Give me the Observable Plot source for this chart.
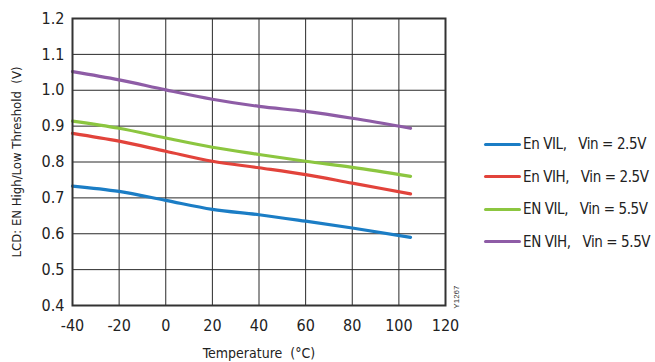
<!DOCTYPE html>
<html>
<head>
<meta charset="utf-8">
<script src="https://cdn.jsdelivr.net/npm/d3@7"></script>
<script src="https://cdn.jsdelivr.net/npm/@observablehq/plot@0.6"></script>
<style>
  html, body { margin: 0; padding: 0; background: #fff; }
  #wrap { position: relative; width: 655px; height: 362px; }
  svg text { white-space: pre; }
  #legend { position: absolute; left: 484px; top: 128px; font-family: "DejaVu Sans Condensed", "Liberation Sans Narrow", sans-serif; font-size: 15px; letter-spacing: -0.4px; color: #222; }
  .item { display: flex; align-items: center; height: 32.5px; white-space: pre; }
  .swatch { width: 37px; height: 3px; border-radius: 2px; margin-right: 2px; }
</style>
</head>
<body>
<div id="wrap"></div>
<script>
const temps = [-40, -20, 0, 20, 40, 60, 80, 105];
const seriesNames = ["En VIL,   Vin = 2.5V", "En VIH,   Vin = 2.5V", "EN VIL,   Vin = 5.5V", "EN VIH,   Vin = 5.5V"];
const seriesColors = ["#1b7dc5", "#e2433b", "#8cc640", "#8e5ca6"];
const enVil25 = [0.733, 0.718, 0.693, 0.668, 0.653, 0.635, 0.616, 0.590];
const enVih25 = [0.880, 0.858, 0.830, 0.802, 0.784, 0.765, 0.741, 0.711];
const enVil55 = [0.914, 0.894, 0.867, 0.841, 0.821, 0.802, 0.785, 0.760];
const enVih55 = [1.052, 1.029, 1.001, 0.975, 0.955, 0.941, 0.922, 0.894];
const xTicks = [-40, -20, 0, 20, 40, 60, 80, 100, 120];
const yTicks = [0.4, 0.5, 0.6, 0.7, 0.8, 0.9, 1.0, 1.1, 1.2];

const allSeries = [enVil25, enVih25, enVil55, enVih55];
const rows = allSeries.flatMap((vals, i) => temps.map((t, j) => ({t, v: vals[j], s: seriesNames[i]})));

const chart = Plot.plot({
  width: 655,
  height: 362,
  marginLeft: 72,
  marginRight: 210,
  marginTop: 18,
  marginBottom: 57,
  style: {fontFamily: '"DejaVu Sans Condensed", "Liberation Sans Narrow", sans-serif', fontSize: "16px", color: "#222", background: "#fff"},
  x: {domain: [-40, 120]},
  y: {domain: [0.4, 1.2]},
  color: {domain: seriesNames, range: seriesColors},
  marks: [
    Plot.gridX(xTicks, {stroke: "#2a2a2a", strokeOpacity: 1, strokeWidth: 1}),
    Plot.gridY(yTicks, {stroke: "#2a2a2a", strokeOpacity: 1, strokeWidth: 1}),
    Plot.line(rows, {x: "t", y: "v", z: "s", stroke: "s", strokeWidth: 3.2, curve: "monotone-x"}),
    Plot.frame({stroke: "#333", strokeWidth: 2}),
    Plot.axisX({ticks: xTicks, tickSize: 0, tickPadding: 14, fontSize: 16, tickFormat: d => String(d), label: null}),
    Plot.axisY({ticks: yTicks, tickSize: 0, tickPadding: 8, fontSize: 16, tickFormat: d3.format(".1f"), label: null}),
    Plot.axisX({ticks: [], tickSize: 0, fontSize: 14, label: "Temperature  (°C)", labelAnchor: "center", labelArrow: "none", labelOffset: 52}),
    Plot.axisY({ticks: [], tickSize: 0, fontSize: 13, label: "LCD: EN High/Low Threshold  (V)", labelAnchor: "center", labelArrow: "none", labelOffset: 61}),
    Plot.text(["Y1267"], {frameAnchor: "bottom-right", dx: 13, dy: -20, rotate: -90, fontSize: 8, fill: "#333", fontFamily: "Liberation Sans, sans-serif"})
  ]
});
document.getElementById("wrap").appendChild(chart);

const legend = document.createElement("div");
legend.id = "legend";
seriesNames.forEach((name, i) => {
  const item = document.createElement("div");
  item.className = "item";
  const sw = document.createElement("span");
  sw.className = "swatch";
  sw.style.background = seriesColors[i];
  const lab = document.createElement("span");
  lab.textContent = name;
  item.appendChild(sw);
  item.appendChild(lab);
  legend.appendChild(item);
});
document.getElementById("wrap").appendChild(legend);
</script>
</body>
</html>
